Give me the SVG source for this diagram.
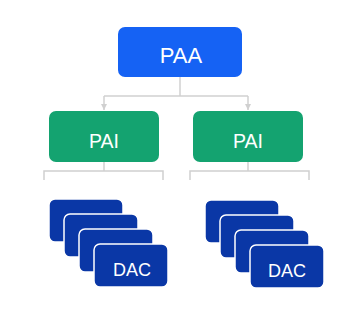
<svg xmlns="http://www.w3.org/2000/svg" width="364" height="314" viewBox="0 0 364 314">
<defs>
<style>
.paa{fill:#1562F4}
.pai{fill:#14A370}
.dac{fill:#0A37A6;stroke:#ffffff;stroke-width:1.5}
.lbl{font-family:"Liberation Sans",Arial,sans-serif;fill:#ffffff;text-anchor:middle;dominant-baseline:central}
.con{fill:none;stroke:#D0D0D0;stroke-width:1.5}
</style>
<marker id="arr" viewBox="0 0 10 10" refX="10" refY="5" markerWidth="6" markerHeight="6" orient="auto" markerUnits="userSpaceOnUse">
<path d="M0,0 L10,5 L0,10 z" fill="#D0D0D0"/>
</marker>
</defs>
<rect width="364" height="314" fill="#ffffff"/>
<g id="connectors">
<path class="con" d="M180,77 V96"/>
<path class="con" d="M104,96 H248"/>
<path class="con" d="M104,96 V110" marker-end="url(#arr)"/>
<path class="con" d="M248,96 V110" marker-end="url(#arr)"/>
<path class="con" d="M104,162 V171"/>
<path class="con" d="M44,180 V171 H163 V180"/>
<path class="con" d="M248,162 V171"/>
<path class="con" d="M190,180 V171 H309 V180"/>
</g>
<g id="paa">
<rect class="paa" x="118" y="27" width="124" height="50" rx="7"/>
<text class="lbl" x="181" y="55.5" font-size="22">PAA</text>
</g>
<g id="pai-left">
<rect class="pai" x="49" y="111" width="110" height="51" rx="7"/>
<text class="lbl" x="104" y="140.5" font-size="19.5">PAI</text>
</g>
<g id="pai-right">
<rect class="pai" x="193" y="111" width="110" height="51" rx="7"/>
<text class="lbl" x="248" y="140.5" font-size="19.5">PAI</text>
</g>
<g id="dac-left">
<rect class="dac" x="49" y="199" width="74" height="43" rx="6"/>
<rect class="dac" x="64" y="214" width="74" height="43" rx="6"/>
<rect class="dac" x="79" y="229" width="74" height="43" rx="6"/>
<rect class="dac" x="94" y="244" width="74" height="43" rx="6"/>
<text class="lbl" x="132" y="269.5" font-size="18">DAC</text>
</g>
<g id="dac-right">
<rect class="dac" x="205" y="200" width="74" height="43" rx="6"/>
<rect class="dac" x="220" y="215" width="74" height="43" rx="6"/>
<rect class="dac" x="235" y="230" width="74" height="43" rx="6"/>
<rect class="dac" x="250" y="245" width="74" height="43" rx="6"/>
<text class="lbl" x="287" y="270.5" font-size="18">DAC</text>
</g>
</svg>
